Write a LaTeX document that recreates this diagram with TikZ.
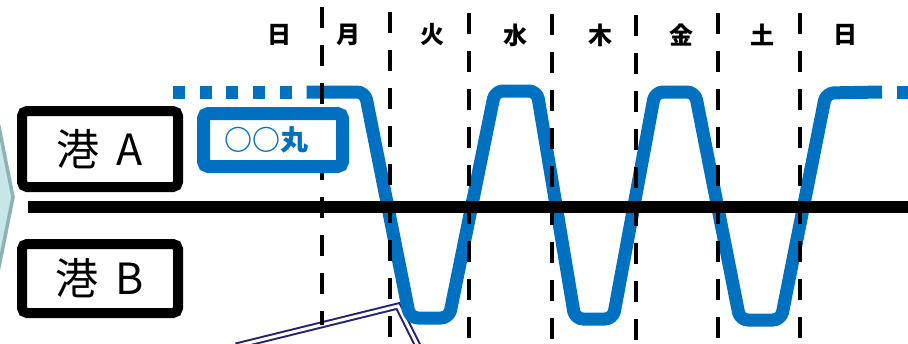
\documentclass[tikz,border=0pt]{standalone}
\usepackage{fontspec}
\setmainfont{Noto Sans CJK JP}
\definecolor{myblue}{RGB}{0,112,192}
\definecolor{mynavy}{RGB}{35,35,110}
\definecolor{tealfill}{RGB}{200,229,232}
\definecolor{tealedge}{RGB}{140,178,180}
\begin{document}
\begin{tikzpicture}[x=1pt,y=-1pt,
  blueline/.style={draw=myblue,line width=13pt,line join=round},
  vdash/.style={draw=black,line width=4.5pt,dash pattern=on 21pt off 17pt},
  port/.style={draw=black,line width=10pt,rounded corners=5pt,fill=white,inner sep=0pt,
    minimum width=156pt,font=\fontsize{43}{50}\selectfont},
  shipbox/.style={draw=myblue,line width=13pt,rounded corners=5pt,fill=white,inner sep=0pt,
    minimum width=139pt,minimum height=53pt,text=myblue,font=\fontsize{28}{32}\selectfont\bfseries},
  day/.style={inner sep=0pt,font=\fontsize{24}{28}\selectfont\bfseries},
  navyline/.style={draw=mynavy,line width=2pt,double=white,double distance=3pt,line join=miter}
]
\useasboundingbox (0,0) rectangle (908,343);
% teal chevron at left edge
\filldraw[fill=tealfill,draw=tealedge,line width=3.5pt] (-20,32) -- (13,197) -- (-20,362) -- cycle;
% navy double line
\coordinate (n1) at (236,346);
\coordinate (n2) at (398,306);
\coordinate (n3) at (418,346);
\draw[navyline] (n1) -- (n2) -- (n3);
% blue timeline
\coordinate (b0) at (173,92);
\coordinate (b1) at (306.5,92);
\coordinate (b2) at (365,92);
\coordinate (b3) at (410,318);
\coordinate (b4) at (449,318);
\coordinate (b5) at (495,91);
\coordinate (b6) at (537,91);
\coordinate (b7) at (575,319);
\coordinate (b8) at (613,319);
\coordinate (b9) at (655,92);
\coordinate (b10) at (695,92);
\coordinate (b11) at (740,320);
\coordinate (b12) at (781,320);
\coordinate (b13) at (826,93);
\coordinate (b14) at (882,92);
\coordinate (b15) at (897,92);
\coordinate (b16) at (909,92);
\draw[blueline,dash pattern=on 12pt off 14.7pt] (b0) -- (b1);
\draw[blueline,rounded corners=8pt] (b1) -- (b2) -- (b3) -- (b4) -- (b5) -- (b6) -- (b7) -- (b8) -- (b9) -- (b10) -- (b11) -- (b12) -- (b13) -- (b14);
\draw[blueline] (b15) -- (b16);
% dashed day separators
\foreach \i/\x/\s/\e in {1/322/7/325,2/390/12/345,3/469/13/345,4/552/14/345,5/636/15/345,6/718/13/345,7/800/13/345}{
  \coordinate (vt\i) at (\x,\s);
  \coordinate (vb\i) at (\x,\e);
  \draw[vdash] (vt\i) -- (vb\i);
}
% black horizontal line
\coordinate (hL) at (28,207);
\coordinate (hR) at (910,207);
\draw[line width=12pt] (hL) -- (hR);
% ship box
\node[shipbox] (ship) at (273,140) {○○丸\hspace*{14pt}};
% ports
\node[port,minimum height=76pt] (portA) at (100,149) {\raisebox{3pt}{港\hspace{0.4em}A}};
\node[port,minimum height=69pt] (portB) at (100,278.5) {港\hspace{0.4em}B};
% day labels
\node[day] (d0) at (279,35) {日};
\node[day] (d1) at (348,35) {月};
\node[day] (d2) at (432,35) {火};
\node[day] (d3) at (515,35) {水};
\node[day] (d4) at (600,35) {木};
\node[day] (d5) at (681,35) {金};
\node[day] (d6) at (762,35) {土};
\node[day] (d7) at (845,35) {日};
\end{tikzpicture}
\end{document}
